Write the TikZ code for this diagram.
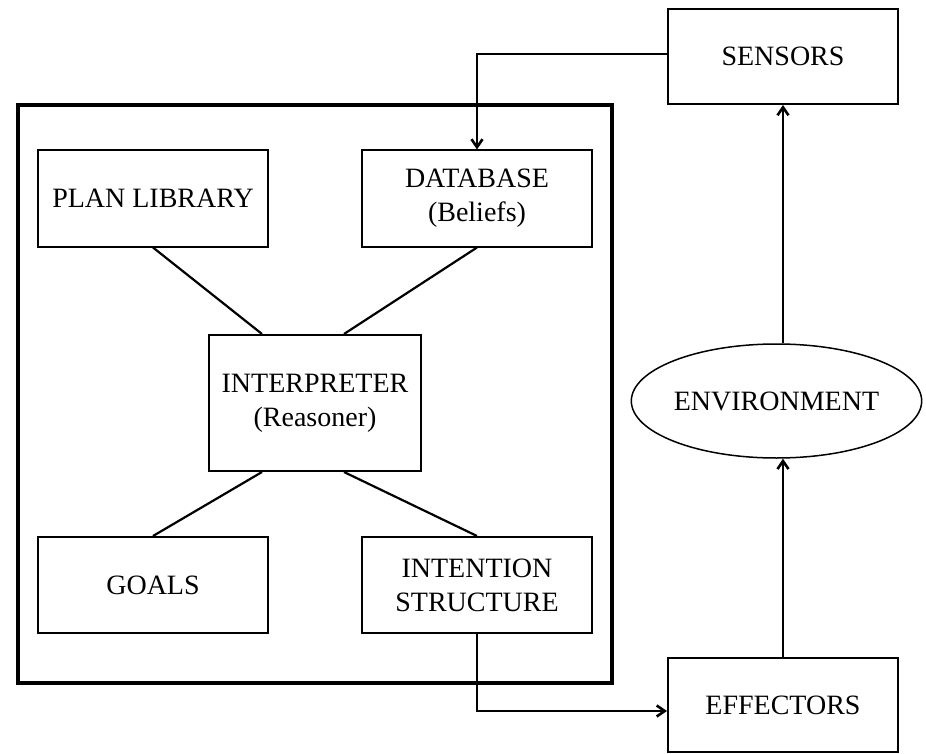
\documentclass[tikz,border=0pt]{standalone}
\usepackage{fontspec}
\setmainfont{Liberation Serif}
\usetikzlibrary{shapes.geometric,arrows.meta}
\begin{document}
\begin{tikzpicture}[x=1pt,y=-1pt,
  box/.style={draw,line width=2pt,rectangle,inner sep=0pt,minimum width=230pt,minimum height=96pt,align=center,font=\fontsize{28}{34}\selectfont},
  link/.style={line width=2.2pt},
  flow/.style={line width=2pt,-{Straight Barb[length=8pt,width=11pt,line width=2.6pt]}}]
\useasboundingbox (0,0) rectangle (926,754);
\draw[line width=4pt] (18,105) rectangle (612,683);
\node[box] (plan) at (153,198.5) {PLAN LIBRARY};
\node[box] (db) at (477,198.5) {DATABASE\\(Beliefs)};
\node[box,minimum width=212pt,minimum height=136pt] (interp) at (315,403) {INTERPRETER\\(Reasoner)};
\node[box] (goals) at (153,585) {GOALS};
\node[box] (intent) at (477,585) {INTENTION\\STRUCTURE};
\node[box,minimum height=95pt] (sens) at (783,56.5) {SENSORS};
\node[box,minimum height=94pt] (eff) at (783,705) {EFFECTORS};
\node[box,ellipse,line width=1.5pt,minimum width=289pt,minimum height=114pt] (env) at (776.5,401) {ENVIRONMENT};
\draw[link] (plan.south) -- ([xshift=54pt]interp.north west);
\draw[link] (db.south) -- ([xshift=136pt]interp.north west);
\draw[link] ([xshift=54pt]interp.south west) -- (goals.north);
\draw[link] ([xshift=136pt]interp.south west) -- (intent.north);
\draw[flow] ([yshift=2.5pt]sens.west) -| (db.north);
\draw[flow] (intent.south) |- ([yshift=-6pt]eff.west);
\draw[flow] (eff.north) -- (env.south -| eff.north);
\draw[flow] (env.north -| sens.south) -- (sens.south);
\end{tikzpicture}
\end{document}
